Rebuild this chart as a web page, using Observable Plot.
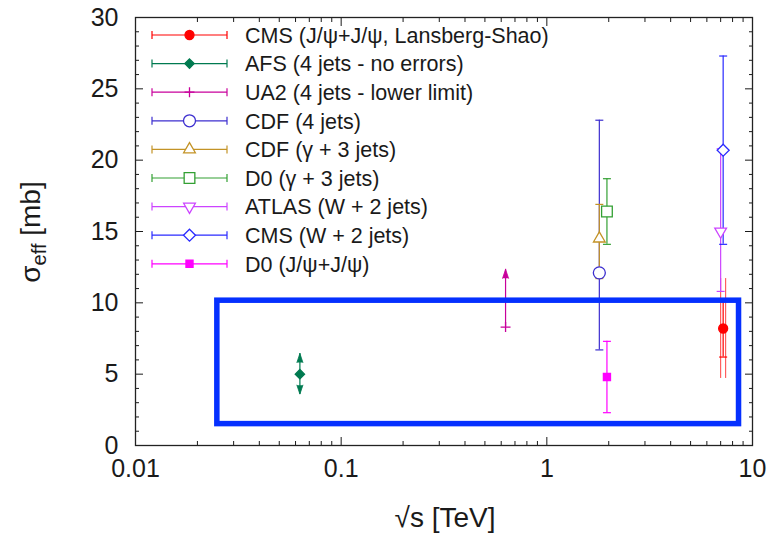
<!DOCTYPE html>
<html>
<head>
<meta charset="utf-8">
<script src="https://cdn.jsdelivr.net/npm/d3@7"></script>
<script src="https://cdn.jsdelivr.net/npm/@observablehq/plot@0.6"></script>
<style>
  body { margin: 0; background: #fff; }
  #chart { width: 774px; height: 534px; }
</style>
</head>
<body>
<div id="chart"></div>
<script>
// Effective cross section sigma_eff measurements versus collision energy
const experiments = [
  "CMS (J/ψ+J/ψ, Lansberg-Shao)",
  "AFS (4 jets - no errors)",
  "UA2 (4 jets - lower limit)",
  "CDF (4 jets)",
  "CDF (γ + 3 jets)",
  "D0 (γ + 3 jets)",
  "ATLAS (W + 2 jets)",
  "CMS (W + 2 jets)",
  "D0 (J/ψ+J/ψ)"
];
const energyTeV = [7.2, 0.063, 0.63, 1.8, 1.8, 1.96, 7.0, 7.2, 1.96];
const sigmaEff  = [8.2, 5.0, 8.3, 12.1, 14.5, 16.4, 15.0, 20.7, 4.8];
const errLow    = [6.2, null, null, 6.7, 11.7, 14.1, 10.8, 14.1, 2.3];
const errHigh   = [10.2, null, null, 22.8, 16.9, 18.7, 20.8, 27.3, 7.3];
const sysLow    = [4.7, null, null, null, null, null, null, null, null];
const sysHigh   = [11.7, null, null, null, null, null, null, null, null];
const arrowUp   = [null, 6.45, 12.35, null, null, null, null, null, null];
const arrowDown = [null, 3.6, null, null, null, null, null, null, null];

// highlighted region
const regionEnergy = [0.025, 8.6];
const regionSigma = [1.5, 10.15];

// axis ticks
const xTicks = [0.01, 0.1, 1, 10];
const xMinor = [0.01, 0.1, 1].flatMap(d => [2, 3, 4, 5, 6, 7, 8, 9].map(k => k * d));
const yTicks = [0, 5, 10, 15, 20, 25, 30];
const yMinor = d3.range(0, 31).filter(v => v % 5 !== 0);

// series styles
const colors  = ["#ff0000", "#007a50", "#c8009b", "#3c2ecf", "#c39326", "#33a033", "#cc44ff", "#2a2aff", "#ff00ff"];
const symbols = ["circle", "diamond2", "plus", "circle", "triangle2", "square2", "triangle2", "diamond2", "square"];
const filled  = [true, true, false, false, false, false, false, false, true];
const radii   = [4.5, 4.2, 3.3, 6, 5.6, 6.8, 5.6, 5.4, 4];
const turns   = [0, 0, 0, 0, 0, 0, 180, 0, 0];

const rows = experiments.map((name, i) => ({
  name, i,
  x: energyTeV[i], y: sigmaEff[i],
  lo: errLow[i], hi: errHigh[i],
  sysLo: sysLow[i], sysHi: sysHigh[i],
  up: arrowUp[i], down: arrowDown[i],
  color: colors[i], symbol: symbols[i], filled: filled[i], r: radii[i], rotate: turns[i]
}));

const withErr = rows.filter(d => d.lo != null);
const withSys = rows.filter(d => d.sysLo != null);
const withUp = rows.filter(d => d.up != null);
const withDown = rows.filter(d => d.down != null);

// horizontal end cap for error bars
const capSymbol = {
  draw(context, size) {
    const w = Math.sqrt(size) / 2;
    context.moveTo(-w, 0);
    context.lineTo(w, 0);
  }
};

const FONT = "'Liberation Sans', Arial, Helvetica, sans-serif";
const INK = "#1a1a1a";

const chart = Plot.plot({
  width: 774,
  height: 534,
  marginLeft: 135,
  marginRight: 22,
  marginTop: 17,
  marginBottom: 89,
  style: { fontFamily: FONT, fontSize: "25px", color: INK, background: "#fff" },
  x: { type: "log", domain: [0.01, 10], label: null },
  y: { domain: [0, 30], label: null },
  r: { type: "identity" },
  marks: [
    // tick labels
    Plot.axisX(xTicks, { anchor: "bottom", tickSize: 0, tickPadding: 14, tickFormat: d => String(d), label: null }),
    Plot.axisY(yTicks, { anchor: "left", tickSize: 0, tickPadding: 17, tickFormat: d => String(d), label: null }),
    // inward ticks on all four sides
    Plot.axisX(xTicks, { anchor: "bottom", tickSize: -8, fill: "none", label: null }),
    Plot.axisX(xMinor, { anchor: "bottom", tickSize: -4, fill: "none", label: null }),
    Plot.axisX(xTicks, { anchor: "top", tickSize: -8, fill: "none", label: null }),
    Plot.axisX(xMinor, { anchor: "top", tickSize: -4, fill: "none", label: null }),
    Plot.axisY(yTicks, { anchor: "left", tickSize: -8, fill: "none", label: null }),
    Plot.axisY(yMinor, { anchor: "left", tickSize: -4, fill: "none", label: null }),
    Plot.axisY(yTicks, { anchor: "right", tickSize: -8, fill: "none", label: null }),
    Plot.axisY(yMinor, { anchor: "right", tickSize: -4, fill: "none", label: null }),

    // systematic uncertainty box
    Plot.ruleX(withSys, { x: "x", y1: "sysLo", y2: "sysHi", stroke: "color", strokeWidth: 6, strokeOpacity: 0.75 }),
    Plot.ruleX(withSys, { x: "x", y1: "sysLo", y2: "sysHi", stroke: "#fff", strokeWidth: 4, insetTop: 1, insetBottom: 1 }),

    // error bars with caps
    Plot.ruleX(withErr, { x: "x", y1: "lo", y2: "hi", stroke: "color", strokeWidth: 1.2 }),
    Plot.dot(withErr, { x: "x", y: "lo", symbol: capSymbol, r: 4.5, stroke: "color", strokeWidth: 1.2, fill: "none" }),
    Plot.dot(withErr, { x: "x", y: "hi", symbol: capSymbol, r: 4.5, stroke: "color", strokeWidth: 1.2, fill: "none" }),

    // arrows (limits / no errors)
    Plot.ruleX(withUp, { x: "x", y1: "y", y2: "up", stroke: "color", strokeWidth: 1.2 }),
    Plot.ruleX(withDown, { x: "x", y1: "y", y2: "down", stroke: "color", strokeWidth: 1.2 }),
    Plot.vector(withUp, { x: "x", y: "up", anchor: "end", length: 9, rotate: 0, shape: "spike", r: 3, fill: "color", stroke: "color", strokeWidth: 0.8 }),
    Plot.vector(withDown, { x: "x", y: "down", anchor: "end", length: 9, rotate: 180, shape: "spike", r: 3, fill: "color", stroke: "color", strokeWidth: 0.8 }),

    // central values
    Plot.dot(rows, {
      x: "x", y: "y", symbol: "symbol", r: "r", rotate: "rotate",
      stroke: "color", fill: d => d.filled ? d.color : "#fff", strokeWidth: 1.3
    }),

    // highlighted region
    Plot.rect([regionEnergy], {
      x1: d => d[0], x2: d => d[1], y1: () => regionSigma[0], y2: () => regionSigma[1],
      stroke: "#0530ff", strokeWidth: 5.5, fill: "none"
    }),

    Plot.frame({ stroke: "#222", strokeWidth: 1.3 })
  ]
});

document.getElementById("chart").appendChild(chart);

const svg = d3.select(chart);

// legend: error-bar sample, marker and label per experiment
const symbolTypes = {
  circle: d3.symbolCircle, diamond2: d3.symbolDiamond2, plus: d3.symbolPlus,
  triangle2: d3.symbolTriangle2, square2: d3.symbolSquare2, square: d3.symbolSquare
};
const legend = svg.append("g")
  .attr("font-family", FONT)
  .attr("font-size", 21.5)
  .attr("text-anchor", "start")
  .attr("fill", INK);
rows.forEach((d, i) => {
  const g = legend.append("g").attr("transform", `translate(0,${35 + i * 28.6})`);
  g.append("line").attr("x1", 152).attr("x2", 227).attr("stroke", d.color).attr("stroke-width", 1.2);
  [152, 227].forEach(cx => g.append("line")
    .attr("x1", cx).attr("x2", cx).attr("y1", -4).attr("y2", 4)
    .attr("stroke", d.color).attr("stroke-width", 1.2));
  g.append("path")
    .attr("d", d3.symbol(symbolTypes[d.symbol], Math.PI * d.r * d.r)())
    .attr("transform", `translate(189.5,0) rotate(${d.rotate})`)
    .attr("fill", d.filled ? d.color : "#fff")
    .attr("stroke", d.color)
    .attr("stroke-width", 1.3);
  g.append("text").attr("x", 245).attr("dy", "0.36em").text(d.name);
});

// axis titles
const yTitle = svg.append("text")
  .attr("transform", "translate(40,232) rotate(-90)")
  .attr("text-anchor", "middle")
  .attr("font-family", FONT)
  .attr("font-size", 28)
  .attr("fill", INK);
yTitle.append("tspan").text("σ");
yTitle.append("tspan").attr("font-size", 20).attr("dy", 6).text("eff");
yTitle.append("tspan").attr("dy", -6).text(" [mb]");

svg.append("text")
  .attr("x", 445)
  .attr("y", 527)
  .attr("text-anchor", "middle")
  .attr("font-family", FONT)
  .attr("font-size", 28)
  .attr("fill", INK)
  .text("√s [TeV]");
</script>
</body>
</html>
